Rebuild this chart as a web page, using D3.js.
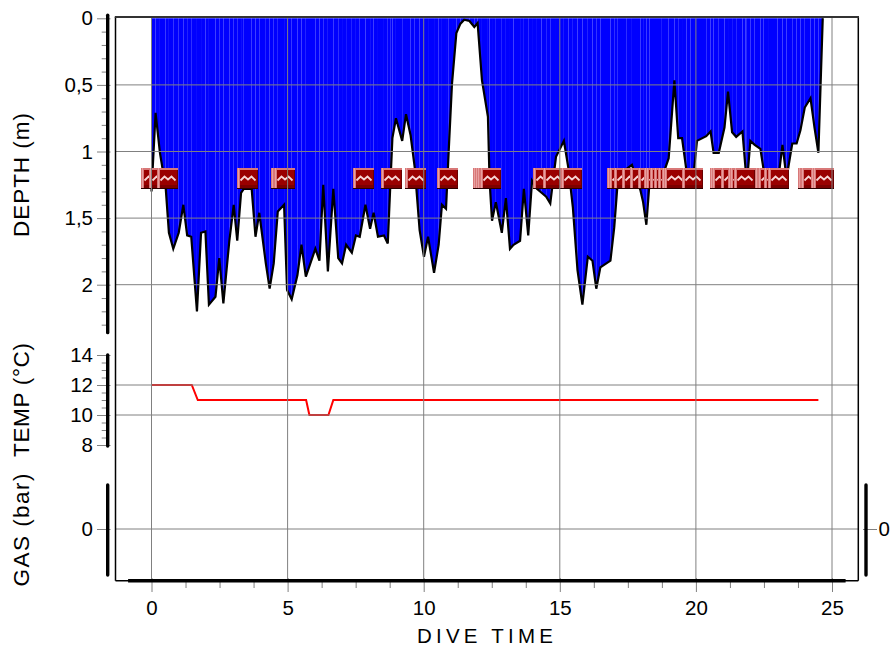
<!DOCTYPE html>
<html>
<head>
<meta charset="utf-8">
<script src="https://cdnjs.cloudflare.com/ajax/libs/d3/7.8.5/d3.min.js"></script>
<style>
html, body { margin: 0; padding: 0; background: #fff; }
svg { display: block; }
text { font-family: "Liberation Sans", Arial, sans-serif; fill: #000; }
</style>
</head>
<body>
<div id="chart"></div>
<script>
// Dive profile
var diveTimes = [0, 0.15, 0.31, 0.52, 0.64, 0.8, 1.0, 1.17, 1.31, 1.46, 1.67, 1.82, 1.98, 2.11, 2.35, 2.49, 2.64, 2.86, 3.02, 3.15, 3.29, 3.39, 3.68, 3.82, 3.96, 4.2, 4.34, 4.49, 4.64, 4.87, 4.98, 5.15, 5.36, 5.51, 5.67, 6.02, 6.17, 6.31, 6.48, 6.68, 6.86, 7.0, 7.15, 7.36, 7.51, 7.65, 7.86, 8.03, 8.16, 8.32, 8.54, 8.68, 8.77, 8.85, 8.98, 9.21, 9.35, 9.52, 9.67, 9.85, 10.01, 10.16, 10.38, 10.55, 10.67, 10.82, 10.92, 11.04, 11.2, 11.35, 11.49, 11.68, 11.86, 11.98, 12.14, 12.36, 12.42, 12.51, 12.65, 12.87, 13.02, 13.17, 13.3, 13.54, 13.68, 13.84, 13.98, 14.16, 14.33, 14.5, 14.65, 14.86, 15.15, 15.32, 15.48, 15.65, 15.83, 16.03, 16.2, 16.34, 16.49, 16.86, 17.0, 17.13, 17.46, 17.65, 17.96, 18.06, 18.18, 18.3, 18.75, 19.0, 19.21, 19.35, 19.49, 19.65, 19.8, 19.93, 20.04, 20.38, 20.54, 20.65, 20.84, 21.05, 21.18, 21.33, 21.48, 21.71, 21.82, 21.87, 22.0, 22.16, 22.37, 22.49, 22.65, 23.0, 23.18, 23.33, 23.54, 23.7, 23.84, 24.0, 24.21, 24.36, 24.5, 24.66];
var diveDepths = [1.3, 0.71, 1.01, 1.27, 1.61, 1.73, 1.61, 1.4, 1.63, 1.64, 2.2, 1.61, 1.6, 2.15, 2.09, 1.8, 2.14, 1.67, 1.4, 1.67, 1.31, 1.28, 1.28, 1.64, 1.46, 1.84, 2.03, 1.84, 1.45, 1.4, 2.04, 2.11, 1.93, 1.7, 1.94, 1.73, 1.82, 1.25, 1.9, 1.28, 1.8, 1.84, 1.7, 1.76, 1.63, 1.64, 1.4, 1.58, 1.46, 1.64, 1.63, 1.69, 1.27, 0.9, 0.75, 0.92, 0.72, 0.88, 1.12, 1.59, 1.79, 1.64, 1.91, 1.7, 1.4, 1.43, 0.99, 0.49, 0.11, 0.04, 0.01, 0.02, 0.065, 0.035, 0.465, 0.74, 1.22, 1.52, 1.38, 1.61, 1.35, 1.73, 1.7, 1.67, 1.28, 1.63, 1.22, 1.28, 1.31, 1.34, 1.39, 1.04, 0.92, 1.13, 1.42, 1.89, 2.15, 1.79, 1.82, 2.03, 1.87, 1.82, 1.57, 1.22, 1.13, 1.1, 1.29, 1.38, 1.55, 1.22, 1.2, 1.05, 0.465, 0.9, 0.9, 1.14, 1.25, 1.14, 0.92, 0.885, 0.85, 1.01, 1.01, 0.82, 0.55, 0.855, 0.89, 0.85, 1.12, 1.25, 0.92, 0.95, 0.98, 1.14, 1.25, 1.25, 0.95, 1.2, 0.94, 0.94, 0.84, 0.67, 0.6, 0.825, 1.01, 0];

var tempTimes = [0, 1.48, 1.7, 5.68, 5.8, 6.5, 6.68, 24.5];
var tempValues = [12, 12, 11, 11, 10, 10, 11, 11];

// deco warning markers along the dive
var eventTimes = [0, 0.3, 0.6, 3.53, 4.78, 4.87, 7.79, 8.82, 9.71, 10.88, 12.2, 12.28, 12.35, 12.46, 14.41, 14.78, 15.4, 15.44, 17.13, 17.21, 17.39, 17.68, 17.98, 18.27, 18.49, 18.57, 18.71, 18.86, 19.01, 19.15, 19.23, 19.89, 20.92, 20.99, 21.29, 21.58, 21.65, 21.8, 22.54, 22.65, 22.9, 23.05, 24.15, 24.23, 24.6, 24.67];

var timeTicks = [0, 5, 10, 15, 20, 25];
var timeMinor = [1.25, 2.5, 3.75, 6.25, 7.5, 8.75, 11.25, 12.5, 13.75, 16.25, 17.5, 18.75, 21.25, 22.5, 23.75];
var depthTicks = [0, 0.5, 1, 1.5, 2];
var depthMinor = [0.1, 0.2, 0.3, 0.4, 0.6, 0.7, 0.8, 0.9, 1.1, 1.2, 1.3, 1.4, 1.6, 1.7, 1.8, 1.9, 2.1, 2.2, 2.3];
var tempTicks = [8, 10, 12, 14];
var tempMinor = [8.5, 9, 9.5, 10.5, 11, 11.5, 12.5, 13, 13.5];
var gasTicks = [0];

var width = 890, height = 647;
var frame = { left: 115.5, right: 858.3, top: 17, bottom: 580.7 };
var grey = "#808080";
var tickFont = 20.5;

var x = d3.scaleLinear().domain([0, 25]).range([151.5, 832]);
var yDepth = d3.scaleLinear().domain([0, 2]).range([18.3, 284.7]);
var yTemp = d3.scaleLinear().domain([14, 8]).range([355, 445]);
var yGas = d3.scaleLinear().domain([0, 1]).range([529, 429]);

var svg = d3.select("#chart").append("svg")
    .attr("width", width)
    .attr("height", height);

var dive = diveTimes.map(function (t, i) { return { t: t, d: diveDepths[i] }; });
var temp = tempTimes.map(function (t, i) { return { t: t, v: tempValues[i] }; });

// one polygon per sample, the seams give the pale stripes in the fill
var area = d3.area()
    .x(function (d) { return x(d.t); })
    .y0(yDepth(0))
    .y1(function (d) { return yDepth(d.d); });

svg.append("g").selectAll("path")
    .data(d3.pairs(dive))
    .enter()
    .append("path")
    .attr("d", function (d) { return area(d); })
    .attr("fill", "#0000ff");

svg.append("path")
    .datum(dive)
    .attr("fill", "none")
    .attr("stroke", "#000")
    .attr("stroke-width", 2.2)
    .attr("d", d3.line()
        .x(function (d) { return x(d.t); })
        .y(function (d) { return yDepth(d.d); }));

svg.append("path")
    .datum(temp)
    .attr("fill", "none")
    .attr("stroke", "#ff0000")
    .attr("stroke-width", 2)
    .attr("d", d3.line()
        .x(function (d) { return x(d.t); })
        .y(function (d) { return yTemp(d.v); }));

// Markers
var iconSize = 21;
var icons = svg.append("g").selectAll("g")
    .data(eventTimes)
    .enter()
    .append("g")
    .attr("transform", function (d) { return "translate(" + (Math.round(x(d) - iconSize / 2)) + ",168)"; });

icons.append("rect").attr("width", iconSize).attr("height", iconSize).attr("fill", "#9a0000");
icons.append("rect").attr("x", 3).attr("y", iconSize - 4).attr("width", iconSize - 3).attr("height", 3).attr("fill", "#7c0000");
icons.append("rect").attr("width", iconSize).attr("height", 2).attr("fill", "#d87878");
icons.append("rect").attr("width", 3).attr("height", iconSize - 1).attr("fill", "#d87878");
icons.append("rect").attr("x", 1).attr("width", 1).attr("height", iconSize - 1).attr("fill", "#e8a0a0");
icons.append("rect").attr("y", iconSize - 1).attr("width", iconSize).attr("height", 1).attr("fill", "#2a0000");
icons.append("rect").attr("x", iconSize - 1).attr("y", 2).attr("width", 1).attr("height", iconSize - 3).attr("fill", "#6a0000");
icons.append("path")
    .attr("d", "M3.5,12.5L7.5,8.5L11,11.5L14.5,8.5L18.5,12.5")
    .attr("fill", "none")
    .attr("stroke", "#f6d4d4")
    .attr("stroke-width", 1.8);

// Grid
var grid = svg.append("g").attr("stroke", grey).attr("stroke-width", 1);
grid.selectAll(".vgrid")
    .data(timeTicks)
    .enter()
    .append("line")
    .attr("class", "vgrid")
    .attr("x1", function (d) { return x(d); })
    .attr("x2", function (d) { return x(d); })
    .attr("y1", frame.top)
    .attr("y2", frame.bottom);

var hLines = depthTicks.slice(1).map(yDepth)
    .concat([12, 10].map(yTemp))
    .concat(gasTicks.map(yGas));
grid.selectAll(".hgrid")
    .data(hLines)
    .enter()
    .append("line")
    .attr("class", "hgrid")
    .attr("x1", frame.left)
    .attr("x2", frame.right)
    .attr("y1", function (d) { return d; })
    .attr("y2", function (d) { return d; });

// Frame
svg.append("path")
    .attr("d", "M" + frame.left + "," + frame.bottom + "V" + frame.top)
    .attr("stroke", "#000").attr("stroke-width", 1.5).attr("fill", "none");
svg.append("path")
    .attr("d", "M" + frame.right + "," + frame.bottom + "V" + frame.top)
    .attr("stroke", "#000").attr("stroke-width", 1.5).attr("fill", "none");
svg.append("path")
    .attr("d", "M" + frame.left + "," + frame.bottom + "H" + frame.right)
    .attr("stroke", "#000").attr("stroke-width", 1.5).attr("fill", "none");
svg.append("path")
    .attr("d", "M" + (frame.left - 0.7) + "," + frame.top + "H" + (frame.right + 0.7))
    .attr("stroke", "#333").attr("stroke-width", 2).attr("fill", "none");

function commaFormat(d) { return String(d).replace(".", ","); }

// left axes: thick bar, minor ticks, major ticks with labels
function leftAxis(scale, major, minor, y1, y2) {
    svg.append("g")
        .attr("transform", "translate(107.7,0)")
        .call(d3.axisLeft(scale).tickValues(minor).tickSize(6).tickFormat(""))
        .call(function (g) { g.select(".domain").remove(); })
        .selectAll("line").attr("stroke", grey);
    svg.append("g")
        .attr("transform", "translate(110.5,0)")
        .call(d3.axisLeft(scale).tickValues(major).tickSize(13.5).tickPadding(4).tickFormat(commaFormat))
        .call(function (g) { g.select(".domain").remove(); })
        .call(function (g) {
            g.selectAll("line").attr("stroke", grey);
            g.selectAll("text").attr("font-size", tickFont);
        });
    svg.append("line")
        .attr("x1", 107.7).attr("x2", 107.7)
        .attr("y1", y1).attr("y2", y2)
        .attr("stroke", "#000").attr("stroke-width", 3.4).attr("stroke-linecap", "round");
}
leftAxis(yDepth, depthTicks, depthMinor, yDepth(0) - 3, yDepth(2.36));
leftAxis(yTemp, tempTicks, tempMinor, yTemp(14), yTemp(8) + 1);
leftAxis(yGas, gasTicks, [], 485, 575);

// right gas axis
svg.append("g")
    .attr("transform", "translate(863,0)")
    .call(d3.axisRight(yGas).tickValues(gasTicks).tickSize(14).tickPadding(1.5).tickFormat(commaFormat))
    .call(function (g) { g.select(".domain").remove(); })
    .call(function (g) {
        g.selectAll("line").attr("stroke", grey);
        g.selectAll("text").attr("font-size", tickFont);
    });
svg.append("line")
    .attr("x1", 866).attr("x2", 866)
    .attr("y1", 485).attr("y2", 575)
    .attr("stroke", "#000").attr("stroke-width", 3.4).attr("stroke-linecap", "round");

// x axis
svg.append("g")
    .attr("transform", "translate(0,581)")
    .call(d3.axisBottom(x).tickValues(timeMinor).tickSize(7).tickFormat(""))
    .call(function (g) { g.select(".domain").remove(); })
    .selectAll("line").attr("stroke", grey);
svg.append("g")
    .attr("transform", "translate(0,578)")
    .call(d3.axisBottom(x).tickValues(timeTicks).tickSize(14).tickPadding(8))
    .call(function (g) { g.select(".domain").remove(); })
    .call(function (g) {
        g.selectAll("line").attr("stroke", grey);
        g.selectAll("text").attr("font-size", tickFont);
    });
svg.append("line")
    .attr("x1", x(-0.86)).attr("x2", x(25.5))
    .attr("y1", 580.7).attr("y2", 580.7)
    .attr("stroke", "#000").attr("stroke-width", 3.4);

// Titles
svg.append("text")
    .attr("x", 485).attr("y", 642.5)
    .attr("text-anchor", "middle")
    .attr("font-size", 20.5)
    .attr("textLength", 136)
    .text("DIVE TIME");

var yTitles = [
    { label: "DEPTH (m)", y: 175, len: 124 },
    { label: "TEMP (°C)", y: 400, len: 114 },
    { label: "GAS (bar)", y: 530, len: 113 }
];
svg.selectAll(".ytitle")
    .data(yTitles)
    .enter()
    .append("text")
    .attr("class", "ytitle")
    .attr("transform", function (d) { return "translate(29," + d.y + ") rotate(-90)"; })
    .attr("text-anchor", "middle")
    .attr("font-size", 22.5)
    .attr("textLength", function (d) { return d.len; })
    .text(function (d) { return d.label; });
</script>
</body>
</html>
